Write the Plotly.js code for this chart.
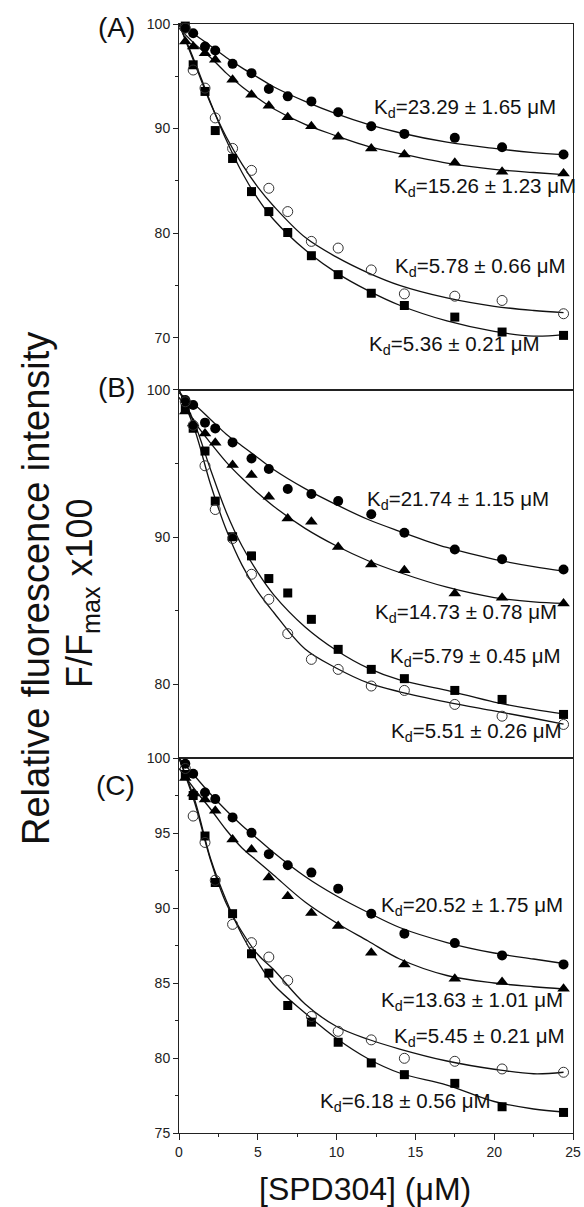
<!DOCTYPE html>
<html>
<head>
<meta charset="utf-8">
<script src="https://cdn.plot.ly/plotly-3.0.1.min.js"></script>
<style>html,body{margin:0;padding:0;background:#fff;}#chart{width:584px;height:1207px;}</style>
</head>
<body>
<div id="chart"></div>
<script>
// ---- data ----
const conc = [0.4, 0.9, 1.65, 2.3, 3.4, 4.6, 5.7, 6.9, 8.4, 10.1, 12.2, 14.3, 17.5, 20.5, 24.4];
const fitConc = [0, 1, 2, 3, 4, 5, 6, 8, 10, 12, 14, 17, 20, 22.5, 24.4];

// Panel A
const A_circle = [99.59, 99.11, 97.84, 97.46, 96.19, 95.30, 93.78, 93.08, 92.60, 91.56, 90.22, 89.49, 89.11, 88.22, 87.52];
const A_triangle = [98.32, 97.84, 97.21, 96.57, 94.67, 93.24, 92.19, 91.08, 90.22, 89.21, 88.10, 87.52, 86.73, 85.87, 85.71];
const A_square = [99.8, 96.1, 93.55, 89.81, 87.14, 83.97, 82.06, 80.06, 77.84, 76.03, 74.25, 73.08, 71.97, 70.54, 70.22];
const A_open = [99.6, 95.6, 93.87, 91.02, 88.10, 86.0, 84.29, 82.06, 79.21, 78.57, 76.48, 74.19, 73.97, 73.56, 72.29];
const A_circle_fit = [100, 99.0, 97.9, 96.8, 95.8, 94.9, 94.0, 92.6, 91.4, 90.4, 89.6, 88.7, 88.1, 87.7, 87.5];
const A_triangle_fit = [99.6, 98.1, 96.8, 95.3, 94.0, 92.9, 91.9, 90.4, 89.3, 88.3, 87.6, 86.7, 86.1, 85.8, 85.6];
const A_square_fit = [100, 96.4, 92.5, 88.9, 85.8, 83.3, 81.3, 78.4, 76.2, 74.5, 73.1, 71.6, 70.6, 70.15, 70.3];
const A_open_fit = [100, 96.2, 92.4, 89.2, 86.6, 84.4, 82.6, 79.6, 77.7, 76.2, 75.0, 73.8, 73.0, 72.6, 72.4];

// Panel B
const B_circle = [99.32, 98.98, 97.78, 97.39, 96.44, 95.35, 94.63, 93.27, 92.93, 92.45, 91.56, 90.30, 89.16, 88.50, 87.80];
const B_triangle = [98.53, 97.73, 97.05, 96.42, 94.90, 94.22, 92.74, 91.27, 91.04, 89.34, 88.14, 87.76, 86.17, 85.89, 85.49];
const B_square = [98.75, 97.4, 95.85, 92.45, 90.03, 88.73, 87.19, 86.21, 84.42, 82.38, 81.02, 80.39, 79.59, 78.98, 77.96];
const B_open = [99.2, 97.6, 94.85, 91.88, 89.91, 87.48, 85.78, 83.45, 81.70, 81.02, 79.89, 79.59, 78.64, 77.84, 77.28];
const B_circle_fit = [99.8, 99.0, 98.0, 97.0, 96.2, 95.4, 94.6, 93.3, 92.2, 91.2, 90.4, 89.3, 88.5, 88.0, 87.7];
const B_triangle_fit = [99.5, 97.8, 96.4, 95.1, 94.0, 93.0, 92.1, 90.6, 89.4, 88.4, 87.6, 86.6, 85.9, 85.6, 85.5];
const B_square_fit = [100, 97.7, 94.6, 91.7, 89.4, 87.6, 86.1, 83.9, 82.3, 81.1, 80.3, 79.6, 78.8, 78.3, 78.0];
const B_open_fit = [100, 97.3, 93.6, 90.5, 88.1, 86.3, 84.9, 82.4, 81.1, 80.1, 79.5, 78.8, 78.2, 77.7, 77.3];

// Panel C
const C_circle = [99.62, 98.95, 97.7, 97.26, 96.04, 95.01, 93.59, 92.85, 92.36, 91.29, 89.62, 88.29, 87.66, 86.84, 86.24];
const C_triangle = [98.66, 97.64, 97.24, 96.48, 94.57, 93.90, 92.03, 90.78, 89.67, 88.80, 87.02, 86.24, 85.28, 85.06, 84.62];
const C_square = [98.9, 97.5, 94.8, 91.70, 89.62, 86.95, 85.66, 83.50, 82.39, 81.05, 79.67, 78.89, 78.31, 76.75, 76.37];
const C_open = [99.3, 96.13, 94.37, 91.85, 88.91, 87.69, 86.73, 85.17, 82.77, 81.78, 81.21, 79.98, 79.78, 79.27, 79.05];
const C_circle_fit = [100, 98.8, 97.6, 96.5, 95.5, 94.6, 93.7, 92.1, 90.8, 89.7, 88.7, 87.7, 87.0, 86.6, 86.3];
const C_triangle_fit = [99.3, 97.9, 96.6, 95.2, 94.0, 93.1, 92.2, 90.4, 89.0, 87.8, 86.6, 85.5, 85.0, 84.75, 84.6];
const C_square_fit = [100, 97.2, 93.3, 90.5, 88.2, 86.4, 84.9, 83.0, 81.3, 79.95, 79.0, 78.2, 77.1, 76.6, 76.4];
const C_open_fit = [100, 97.0, 93.2, 90.3, 88.4, 86.9, 85.9, 83.6, 82.1, 81.25, 80.6, 79.8, 79.25, 78.95, 79.05];

const panelLabels = ["(A)", "(B)", "(C)"];
const kdLabels = {
  A: ["K<sub>d</sub>=23.29 ± 1.65 μM", "K<sub>d</sub>=15.26 ± 1.23 μM", "K<sub>d</sub>=5.78 ± 0.66 μM", "K<sub>d</sub>=5.36 ± 0.21 μM"],
  B: ["K<sub>d</sub>=21.74 ± 1.15 μM", "K<sub>d</sub>=14.73 ± 0.78 μM", "K<sub>d</sub>=5.79 ± 0.45 μM", "K<sub>d</sub>=5.51 ± 0.26 μM"],
  C: ["K<sub>d</sub>=20.52 ± 1.75 μM", "K<sub>d</sub>=13.63 ± 1.01 μM", "K<sub>d</sub>=5.45 ± 0.21 μM", "K<sub>d</sub>=6.18 ± 0.56 μM"]
};
const xTitle = "[SPD304] (μM)";
const yTitle1 = "Relative fluorescence intensity";
const yTitle2 = "F/F<sub>max</sub> x100";

// ---- build ----
const FONT = "Arial, 'Liberation Sans', sans-serif";
const markerStyles = {
  circle: {symbol: 'circle', size: 10, color: '#000'},
  triangle: {symbol: 'triangle-up', size: 11, color: '#000'},
  square: {symbol: 'square', size: 9, color: '#000'},
  open: {symbol: 'circle-open', size: 10, color: '#333', line: {width: 1, color: '#333'}}
};
const panels = [
  {ax: '', data: {circle: A_circle, triangle: A_triangle, square: A_square, open: A_open},
   fit: {circle: A_circle_fit, triangle: A_triangle_fit, square: A_square_fit, open: A_open_fit}},
  {ax: '2', data: {circle: B_circle, triangle: B_triangle, square: B_square, open: B_open},
   fit: {circle: B_circle_fit, triangle: B_triangle_fit, square: B_square_fit, open: B_open_fit}},
  {ax: '3', data: {circle: C_circle, triangle: C_triangle, square: C_square, open: C_open},
   fit: {circle: C_circle_fit, triangle: C_triangle_fit, square: C_square_fit, open: C_open_fit}}
];
const traces = [];
panels.forEach(p => {
  ['circle', 'triangle', 'square', 'open'].forEach(k => {
    traces.push({x: fitConc, y: p.fit[k], mode: 'lines', line: {color: '#111', width: 1.3, shape: 'spline', smoothing: 1},
      xaxis: 'x' + p.ax, yaxis: 'y' + p.ax, hoverinfo: 'skip', showlegend: false, cliponaxis: false});
  });
  ['circle', 'triangle', 'square', 'open'].forEach(k => {
    traces.push({x: conc, y: p.data[k], mode: 'markers', marker: markerStyles[k],
      xaxis: 'x' + p.ax, yaxis: 'y' + p.ax, showlegend: false, cliponaxis: false});
  });
});

const tickFont = {family: FONT, size: 14, color: '#222'};
function xax(anchor, last) {
  return {anchor: anchor, domain: [0, 1], range: [0, 25], showgrid: false, zeroline: false,
    showline: true, mirror: true, linecolor: '#222', linewidth: 1,
    ticks: last ? 'outside' : '', ticklen: 6, tickwidth: 1, tickcolor: '#222', dtick: 5, tick0: 0,
    showticklabels: !!last, tickfont: tickFont,
    minor: last ? {ticks: 'outside', ticklen: 3, dtick: 2.5, tickcolor: '#222'} : undefined};
}
function yax(anchor, dom, range, dtick, mdtick) {
  return {anchor: anchor, domain: dom, range: range, showgrid: false, zeroline: false,
    showline: true, mirror: true, linecolor: '#222', linewidth: 1,
    ticks: 'outside', ticklen: 5, tickwidth: 1, tickcolor: '#222', dtick: dtick, tick0: 0,
    tickfont: tickFont, minor: {ticks: 'outside', ticklen: 3, dtick: mdtick, tickcolor: '#222'}};
}

// pixel -> paper helpers (plot area: x 179..573, y 24..1133)
const px = v => (v - 179) / 394;
const py = v => (1133 - v) / 1109;

const ann = [];
const kdPos = {
  A: [[12.24, 92.0], [13.5, 84.38], [13.6, 76.73], [11.92, 69.27]],
  B: [[11.8, 92.53], [12.34, 84.83], [13.29, 81.88], [13.3, 76.79]],
  C: [[12.7, 90.13], [12.7, 83.82], [13.5, 81.42], [8.8, 77.09]]
};
[['A', ''], ['B', '2'], ['C', '3']].forEach(([key, ax]) => {
  kdLabels[key].forEach((t, i) => {
    ann.push({text: t, x: kdPos[key][i][0], y: kdPos[key][i][1], xref: 'x' + ax, yref: 'y' + ax,
      xanchor: 'left', yanchor: 'middle', showarrow: false, font: {family: FONT, size: 20.5, color: '#111'}});
  });
});
const labelY = [28, 387, 785];
panelLabels.forEach((t, i) => {
  ann.push({text: t, x: px(137), y: py(labelY[i]), xref: 'paper', yref: 'paper', xanchor: 'right', yanchor: 'middle',
    showarrow: false, font: {family: FONT, size: 28, color: '#111'}});
});
ann.push({text: xTitle, x: px(365), y: py(1189), xref: 'paper', yref: 'paper', xanchor: 'center', yanchor: 'middle',
  showarrow: false, font: {family: FONT, size: 32, color: '#111'}});
ann.push({text: yTitle1, x: px(36), y: py(589), xref: 'paper', yref: 'paper', xanchor: 'center', yanchor: 'middle',
  textangle: -90, showarrow: false, font: {family: FONT, size: 38, color: '#111'}});
ann.push({text: yTitle2, x: px(82), y: py(593), xref: 'paper', yref: 'paper', xanchor: 'center', yanchor: 'middle',
  textangle: -90, showarrow: false, font: {family: FONT, size: 36, color: '#111'}});

const layout = {
  width: 584, height: 1207,
  margin: {l: 179, r: 11, t: 24, b: 74},
  paper_bgcolor: '#fff', plot_bgcolor: '#fff',
  font: {family: FONT, color: '#111'},
  showlegend: false,
  xaxis: xax('y', false),
  xaxis2: xax('y2', false),
  xaxis3: xax('y3', true),
  yaxis: yax('x', [0.67, 1], [65, 100], 10, 5),
  yaxis2: yax('x2', [0.33814, 0.67], [75, 100], 10, 5),
  yaxis3: yax('x3', [0, 0.33814], [75, 100], 5, 2.5),
  annotations: ann
};
Plotly.newPlot('chart', traces, layout, {displayModeBar: false, staticPlot: true});
</script>
</body>
</html>
